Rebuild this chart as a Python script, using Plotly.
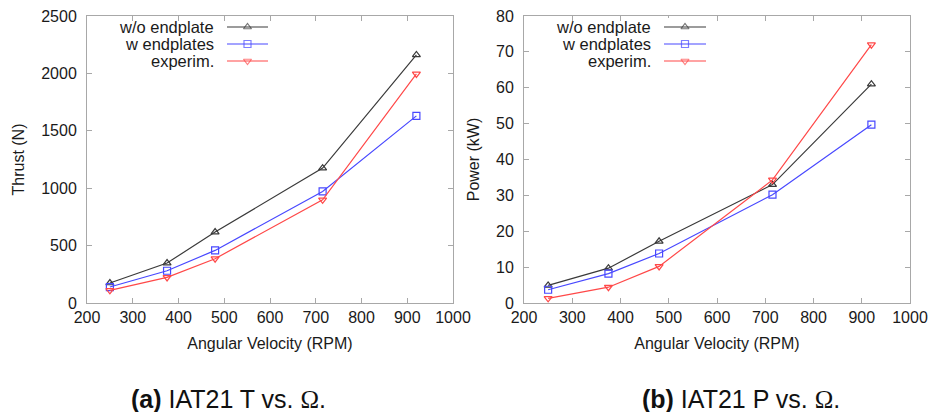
import plotly.graph_objects as go

rpm = [250, 375, 480, 715, 920]
thrust_wo = [174, 348, 618, 1175, 2161]
thrust_w = [139, 281, 458, 972, 1630]
thrust_exp = [110, 223, 386, 899, 1995]
power_wo = [4.9, 9.7, 17.2, 33.0, 61.0]
power_w = [3.7, 8.2, 13.8, 30.2, 49.7]
power_exp = [1.3, 4.4, 10.2, 34.3, 72.0]
series_names = ["w/o endplate", "w endplates", "experim."]
series_colors = ["#3a3a3a", "#4848ff", "#ff4848"]
series_symbols = ["triangle-up-open", "square-open", "triangle-down-open"]
x_ticks = [200, 300, 400, 500, 600, 700, 800, 900, 1000]
thrust_ticks = [0, 500, 1000, 1500, 2000, 2500]
power_ticks = [0, 10, 20, 30, 40, 50, 60, 70, 80]
captions = ["<b>(a)</b> IAT21 T vs. <span style='font-family:Liberation Serif'>Ω</span>.",
            "<b>(b)</b> IAT21 P vs. <span style='font-family:Liberation Serif'>Ω</span>."]

W, H = 930, 412
def px(x):
    return x / W
def py(y):
    return 1 - y / H

FONT = "Liberation Sans"
TXT = "#1a1a1a"

fig = go.Figure()

data_left = [thrust_wo, thrust_w, thrust_exp]
data_right = [power_wo, power_w, power_exp]
for i in range(3):
    for xa, ya, d in (("x", "y", data_left[i]), ("x2", "y2", data_right[i])):
        fig.add_trace(go.Scatter(x=rpm, y=d, mode="lines+markers", xaxis=xa, yaxis=ya,
                                 line=dict(color=series_colors[i], width=1.2),
                                 marker=dict(symbol=series_symbols[i], size=7, color=series_colors[i],
                                             line=dict(width=1.2, color=series_colors[i])),
                                 showlegend=False))

# legend samples on auxiliary axes
legend_rows = [27, 44, 61]
for ax_idx, tx in zip([3, 4], [216, 653]):
    for i in range(3):
        fig.add_trace(go.Scatter(x=[0, 0.5, 1], y=[legend_rows[i]] * 3, mode="lines+markers",
                                 xaxis=f"x{ax_idx}", yaxis=f"y{ax_idx}",
                                 line=dict(color=series_colors[i], width=1.2),
                                 marker=dict(symbol=series_symbols[i], size=[0, 7, 0], color=series_colors[i],
                                             line=dict(width=1.2, color=series_colors[i])),
                                 showlegend=False, hoverinfo="skip"))
        fig.add_annotation(text=series_names[i], xref="paper", yref="paper", x=px(tx), y=py(legend_rows[i]),
                           xanchor="right", yanchor="middle", showarrow=False,
                           font=dict(size=16.5, color=TXT, family=FONT))

axis_common = dict(showline=True, linecolor="#a8a8a8", linewidth=1, mirror="allticks", ticks="inside",
                   ticklen=5, tickcolor="#a8a8a8", showgrid=False, zeroline=False, automargin=False,
                   tickfont=dict(size=16, color=TXT, family=FONT))
title_font = dict(size=16, color=TXT, family=FONT)
ydom = [py(303), py(16)]
fig.update_layout(
    width=W, height=H, margin=dict(l=0, r=0, t=0, b=0),
    paper_bgcolor="white", plot_bgcolor="white",
    xaxis=dict(domain=[px(87), px(453)], range=[200, 1000], tickvals=x_ticks, anchor="y",
               title=dict(text="Angular Velocity (RPM)", font=title_font, standoff=12),
               **axis_common),
    yaxis=dict(domain=ydom, range=[0, 2500], tickvals=thrust_ticks, anchor="x", ticklabelstandoff=6,
               title=dict(text="Thrust (N)", font=title_font, standoff=12),
               **axis_common),
    xaxis2=dict(domain=[px(524), px(910)], range=[200, 1000], tickvals=x_ticks, anchor="y2",
                title=dict(text="Angular Velocity (RPM)", font=title_font, standoff=12),
                **axis_common),
    yaxis2=dict(domain=ydom, range=[0, 80], tickvals=power_ticks, anchor="x2", ticklabelstandoff=6,
                title=dict(text="Power (kW)", font=title_font, standoff=12),
                **axis_common),
    xaxis3=dict(domain=[px(227), px(268)], range=[0, 1], visible=False, anchor="y3"),
    yaxis3=dict(domain=[py(70), py(18)], range=[70, 18], visible=False, anchor="x3"),
    xaxis4=dict(domain=[px(664), px(706)], range=[0, 1], visible=False, anchor="y4"),
    yaxis4=dict(domain=[py(70), py(18)], range=[70, 18], visible=False, anchor="x4"),
)

for cap, cx in zip(captions, [228, 741]):
    fig.add_annotation(text=cap, xref="paper", yref="paper", x=px(cx), y=py(399), xanchor="center",
                       yanchor="middle", showarrow=False,
                       font=dict(size=25, color="#111111", family=FONT))

fig.write_html("out.html", config={"displayModeBar": False},
               post_script="document.body.style.margin='0';document.body.style.overflow='hidden';")
